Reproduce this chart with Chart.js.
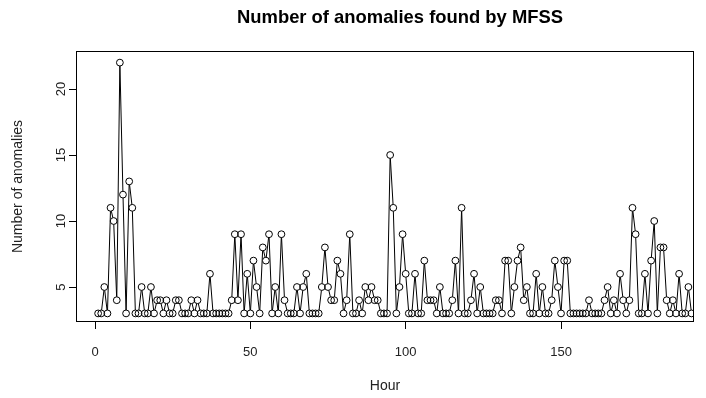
<!DOCTYPE html>
<html>
<head>
<meta charset="utf-8">
<script src="https://cdn.jsdelivr.net/npm/chart.js@4/dist/chart.umd.min.js"></script>
<style>
  html, body { margin: 0; padding: 0; background: #ffffff; }
  #c { display: block; }
</style>
</head>
<body>
<canvas id="c" width="706" height="398"></canvas>
<script>
const chartTitle = "Number of anomalies found by MFSS";
const xAxisTitle = "Hour";
const yAxisTitle = "Number of anomalies";

const hours = [
  1,2,3,4,5,6,7,8,9,10,
  11,12,13,14,15,16,17,18,19,20,
  21,22,23,24,25,26,27,28,29,30,
  31,32,33,34,35,36,37,38,39,40,
  41,42,43,44,45,46,47,48,49,50,
  51,52,53,54,55,56,57,58,59,60,
  61,62,63,64,65,66,67,68,69,70,
  71,72,73,74,75,76,77,78,79,80,
  81,82,83,84,85,86,87,88,89,90,
  91,92,93,94,95,96,97,98,99,100,
  101,102,103,104,105,106,107,108,109,110,
  111,112,113,114,115,116,117,118,119,120,
  121,122,123,124,125,126,127,128,129,130,
  131,132,133,134,135,136,137,138,139,140,
  141,142,143,144,145,146,147,148,149,150,
  151,152,153,154,155,156,157,158,159,160,
  161,162,163,164,165,166,167,168,169,170,
  171,172,173,174,175,176,177,178,179,180,
  181,182,183,184,185,186,187,188,189,190,
  191,192
];

const anomalies = [
  3,3,5,3,11,10,4,22,12,3,
  13,11,3,3,5,3,3,5,3,4,
  4,3,4,3,3,4,4,3,3,3,
  4,3,4,3,3,3,6,3,3,3,
  3,3,3,4,9,4,9,3,6,3,
  7,5,3,8,7,9,3,5,3,9,
  4,3,3,3,5,3,5,6,3,3,
  3,3,5,8,5,4,4,7,6,3,
  4,9,3,3,4,3,5,4,5,4,
  4,3,3,3,15,11,3,5,9,6,
  3,3,6,3,3,7,4,4,4,3,
  5,3,3,3,4,7,3,11,3,3,
  4,6,3,5,3,3,3,3,4,4,
  3,7,7,3,5,7,8,4,5,3,
  3,6,3,5,3,3,4,7,5,3,
  7,7,3,3,3,3,3,3,4,3,
  3,3,3,4,5,3,4,3,6,4,
  3,4,11,9,3,3,6,3,7,10,
  3,8,8,4,3,4,3,6,3,3,
  5,3
];

const xTicks = [0, 50, 100, 150];
const yTicks = [5, 10, 15, 20];

const points = hours.map((h, i) => ({ x: h, y: anomalies[i] }));

const FONT = "'Liberation Sans', Arial, Helvetica, sans-serif";

const boxPlugin = {
  id: 'rbox',
  afterDraw(chart) {
    const a = chart.chartArea;
    const ctx = chart.ctx;
    ctx.save();
    ctx.strokeStyle = '#000';
    ctx.lineWidth = 1;
    ctx.strokeRect(Math.round(a.left) + 0.5, Math.round(a.top) + 0.5,
                   Math.round(a.right - a.left) - 1, Math.round(a.bottom - a.top) - 1);
    // main title (R places it slightly right of the plot centre here)
    ctx.fillStyle = '#000';
    ctx.font = 'bold 18.4px ' + FONT;
    ctx.textAlign = 'center';
    ctx.textBaseline = 'alphabetic';
    ctx.fillText(chartTitle, (a.left + a.right) / 2 + 15, 23);
    ctx.restore();
  }
};

new Chart(document.getElementById('c'), {
  type: 'line',
  data: {
    datasets: [
      {
        data: points,
        order: 1,
        showLine: false,
        pointRadius: 3.4,
        pointBorderWidth: 1,
        pointBorderColor: '#000',
        pointBackgroundColor: 'rgba(0,0,0,0)'
      },
      {
        data: points,
        order: 2,
        showLine: false,
        pointRadius: 3.4,
        pointBorderWidth: 0,
        pointBorderColor: '#fff',
        pointBackgroundColor: '#fff'
      },
      {
        data: points,
        order: 3,
        showLine: true,
        borderColor: '#000',
        borderWidth: 1,
        tension: 0,
        pointRadius: 0
      }
    ]
  },
  options: {
    responsive: false,
    animation: false,
    events: [],
    layout: { padding: { left: 0, right: 12, top: 51, bottom: 0 } },
    plugins: {
      legend: { display: false },
      tooltip: { enabled: false },
      title: { display: false }
    },
    scales: {
      x: {
        type: 'linear',
        min: -6.12,
        max: 192.8,
        afterFit(s) { s.height = 76; },
        afterBuildTicks(s) { s.ticks = xTicks.map(v => ({ value: v })); },
        border: { display: false },
        grid: { display: true, drawOnChartArea: false, drawTicks: true, tickLength: 7, color: '#000', lineWidth: 1 },
        ticks: {
          includeBounds: false,
          maxRotation: 0,
          autoSkip: false,
          padding: 16,
          color: '#222',
          font: { family: FONT, size: 13 }
        },
        title: {
          display: true,
          text: xAxisTitle,
          color: '#222',
          font: { family: FONT, size: 14 },
          padding: { top: 0, bottom: 3 }
        }
      },
      y: {
        type: 'linear',
        min: 2.35,
        max: 22.88,
        afterFit(s) { s.width = 76; },
        afterBuildTicks(s) { s.ticks = yTicks.map(v => ({ value: v })); },
        border: { display: false },
        grid: { display: true, drawOnChartArea: false, drawTicks: true, tickLength: 7, color: '#000', lineWidth: 1 },
        ticks: {
          includeBounds: false,
          minRotation: 90,
          maxRotation: 90,
          crossAlign: 'center',
          autoSkip: false,
          padding: 0,
          color: '#222',
          font: { family: FONT, size: 13 }
        },
        title: {
          display: true,
          text: yAxisTitle,
          color: '#222',
          font: { family: FONT, size: 14 },
          padding: { top: 10, bottom: 0 }
        }
      }
    }
  },
  plugins: [boxPlugin]
});
</script>
</body>
</html>
